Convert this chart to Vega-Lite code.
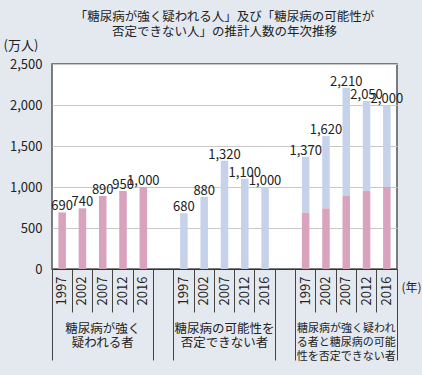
{
  "$schema": "https://vega.github.io/schema/vega-lite/v6.json",
  "width": 345,
  "height": 205,
  "autosize": "none",
  "padding": {"left": 52, "top": 64, "right": 25, "bottom": 106},
  "background": "#e4e9f0",
  "title": {
    "text": ["「糖尿病が強く疑われる人」及び「糖尿病の可能性が", "否定できない人」の推計人数の年次推移"],
    "fontSize": 12.5,
    "fontWeight": "normal",
    "font": "Noto Sans CJK JP",
    "color": "#222",
    "lineHeight": 15,
    "offset": 1,
    "anchor": "middle"
  },
  "config": {
    "view": {"stroke": "#555", "strokeWidth": 1.5, "fill": "white"},
    "axis": {"labelFont": "Noto Sans CJK JP", "titleFont": "Noto Sans CJK JP", "labelColor": "#222", "titleColor": "#222", "grid": false}
  },
  "data": {
    "values": [
      {"slot": "g1-1997", "type": "strong", "value": 690},
      {"slot": "g1-2002", "type": "strong", "value": 740},
      {"slot": "g1-2007", "type": "strong", "value": 890},
      {"slot": "g1-2012", "type": "strong", "value": 950},
      {"slot": "g1-2016", "type": "strong", "value": 1000},
      {"slot": "g2-1997", "type": "possible", "value": 680},
      {"slot": "g2-2002", "type": "possible", "value": 880},
      {"slot": "g2-2007", "type": "possible", "value": 1320},
      {"slot": "g2-2012", "type": "possible", "value": 1100},
      {"slot": "g2-2016", "type": "possible", "value": 1000},
      {"slot": "g3-1997", "type": "strong", "value": 690},
      {"slot": "g3-1997", "type": "possible", "value": 680},
      {"slot": "g3-2002", "type": "strong", "value": 740},
      {"slot": "g3-2002", "type": "possible", "value": 880},
      {"slot": "g3-2007", "type": "strong", "value": 890},
      {"slot": "g3-2007", "type": "possible", "value": 1320},
      {"slot": "g3-2012", "type": "strong", "value": 950},
      {"slot": "g3-2012", "type": "possible", "value": 1100},
      {"slot": "g3-2016", "type": "strong", "value": 1000},
      {"slot": "g3-2016", "type": "possible", "value": 1000}
    ]
  },
  "resolve": {"axis": {"x": "independent"}},
  "layer": [
    {
      "mark": {"type": "bar", "width": {"band": 0.37}},
      "encoding": {
        "x": {
          "field": "slot", "type": "ordinal",
          "scale": {"domain": ["g1-1997","g1-2002","g1-2007","g1-2012","g1-2016","gap1","g2-1997","g2-2002","g2-2007","g2-2012","g2-2016","gap2","g3-1997","g3-2002","g3-2007","g3-2012","g3-2016"], "paddingInner": 0, "paddingOuter": 0},
          "axis": {
            "orient": "bottom",
            "values": ["g1-1997","g1-2002","g1-2007","g1-2012","g1-2016","g2-1997","g2-2002","g2-2007","g2-2012","g2-2016","g3-1997","g3-2002","g3-2007","g3-2012","g3-2016"],
            "labelExpr": "slice(datum.value, 3)",
            "labelAngle": -90,
            "labelAlign": "right",
            "labelBaseline": "middle",
            "labelPadding": 7,
            "labelFontSize": 13,
            "ticks": false,
            "domain": true,
            "domainColor": "#333",
            "domainWidth": 1.2,
            "title": "(年)",
            "titleAngle": 0,
            "titleX": 349,
            "titleY": 18,
            "titleAlign": "left",
            "titleBaseline": "middle",
            "titleFontSize": 12,
            "titleFontWeight": "normal"
          }
        },
        "y": {
          "field": "value", "type": "quantitative", "stack": "zero",
          "scale": {"domain": [0, 2500], "nice": false},
          "axis": {
            "values": [0, 500, 1000, 1500, 2000, 2500],
            "format": ",.0f",
            "grid": true,
            "gridColor": "#c8c8c8",
            "ticks": false,
            "domain": false,
            "labelPadding": 10,
            "labelFontSize": 13,
            "title": "(万人)",
            "titleAngle": 0,
            "titleX": -49,
            "titleY": -19,
            "titleAlign": "left",
            "titleBaseline": "middle",
            "titleFontSize": 13,
            "titleFontWeight": "normal"
          }
        },
        "color": {
          "field": "type", "type": "nominal",
          "scale": {"domain": ["strong", "possible"], "range": ["#d9a2bd", "#c6d2ea"]},
          "legend": null
        },
        "order": {"field": "type", "sort": "descending"}
      }
    },
    {
      "transform": [{"aggregate": [{"op": "sum", "field": "value", "as": "total"}], "groupby": ["slot"]}],
      "mark": {"type": "text", "baseline": "alphabetic", "dy": -2, "fontSize": 13, "font": "Noto Sans CJK JP", "color": "#222"},
      "encoding": {
        "x": {
          "field": "slot", "type": "ordinal",
          "scale": {"domain": ["g1-1997","g1-2002","g1-2007","g1-2012","g1-2016","gap1","g2-1997","g2-2002","g2-2007","g2-2012","g2-2016","gap2","g3-1997","g3-2002","g3-2007","g3-2012","g3-2016"], "paddingInner": 0, "paddingOuter": 0},
          "axis": {"orient": "bottom", "values": ["g1-2002","g1-2007","g1-2012","g1-2016","g2-2002","g2-2007","g2-2012","g2-2016","g3-2002","g3-2007","g3-2012","g3-2016"], "bandPosition": 0, "tickSize": 43, "tickColor": "#444", "labels": false, "domain": false, "title": null}
        },
        "y": {
          "field": "total", "type": "quantitative",
          "scale": {"domain": [0, 2500], "nice": false},
          "axis": {
            "values": [0, 500, 1000, 1500, 2000, 2500],
            "format": ",.0f",
            "grid": true,
            "gridColor": "#c8c8c8",
            "ticks": false,
            "domain": false,
            "labelPadding": 10,
            "labelFontSize": 13,
            "title": "(万人)",
            "titleAngle": 0,
            "titleX": -49,
            "titleY": -19,
            "titleAlign": "left",
            "titleBaseline": "middle",
            "titleFontSize": 13,
            "titleFontWeight": "normal"
          }
        },
        "text": {"field": "total", "type": "quantitative", "format": ","}
      }
    },
    {
      "mark": {"type": "rule", "opacity": 0},
      "encoding": {
        "x": {
          "field": "slot", "type": "ordinal",
          "scale": {"domain": ["g1-1997","g1-2002","g1-2007","g1-2012","g1-2016","gap1","g2-1997","g2-2002","g2-2007","g2-2012","g2-2016","gap2","g3-1997","g3-2002","g3-2007","g3-2012","g3-2016"], "paddingInner": 0, "paddingOuter": 0},
          "axis": {"orient": "bottom", "values": ["g1-1997","gap1","g2-1997","gap2","g3-1997"], "bandPosition": 0, "tickSize": 91, "tickColor": "#444", "labels": false, "domain": false, "title": null}
        }
      }
    },
    {
      "mark": {"type": "rule", "opacity": 0},
      "encoding": {
        "x": {
          "field": "slot", "type": "ordinal",
          "scale": {"domain": ["g1-1997","g1-2002","g1-2007","g1-2012","g1-2016","gap1","g2-1997","g2-2002","g2-2007","g2-2012","g2-2016","gap2","g3-1997","g3-2002","g3-2007","g3-2012","g3-2016"], "paddingInner": 0, "paddingOuter": 0},
          "axis": {"orient": "bottom", "values": ["g3-2016"], "bandPosition": 1, "tickSize": 91, "tickColor": "#444", "labels": false, "domain": false, "title": null}
        }
      }
    },
    {
      "mark": {"type": "rule", "opacity": 0},
      "encoding": {
        "x": {
          "field": "slot", "type": "ordinal",
          "scale": {"domain": ["g1-1997","g1-2002","g1-2007","g1-2012","g1-2016","gap1","g2-1997","g2-2002","g2-2007","g2-2012","g2-2016","gap2","g3-1997","g3-2002","g3-2007","g3-2012","g3-2016"], "paddingInner": 0, "paddingOuter": 0},
          "axis": {
            "orient": "bottom",
            "values": ["g1-2007","g2-2007","g3-2007"],
            "bandPosition": 0.5,
            "ticks": false,
            "domain": false,
            "title": null,
            "labelAngle": 0,
            "labelAlign": "center",
            "labelBaseline": "top",
            "labelPadding": 53,
            "labelLineHeight": 14,
            "labelFontSize": {"condition": {"test": "datum.value == 'g3-2007'", "value": 11}, "value": 12.5},
            "labelExpr": "datum.value == 'g1-2007' ? ['糖尿病が強く', '疑われる者'] : datum.value == 'g2-2007' ? ['糖尿病の可能性を', '否定できない者'] : ['糖尿病が強く疑われ', 'る者と糖尿病の可能', '性を否定できない者']"
          }
        }
      }
    }
  ]
}
